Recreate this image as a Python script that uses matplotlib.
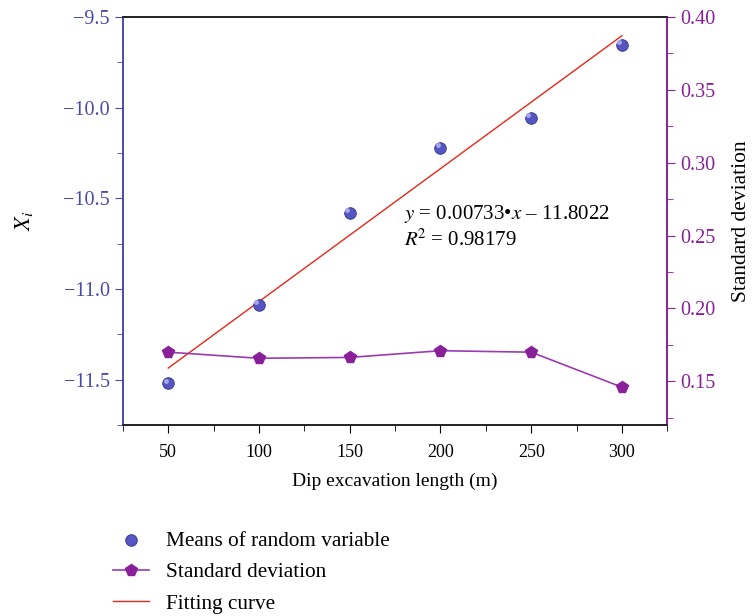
import matplotlib
matplotlib.use("Agg")
import matplotlib.pyplot as plt
import numpy as np
from matplotlib.ticker import MultipleLocator

plt.rcParams['font.family'] = ['Liberation Serif', 'DejaVu Serif']
plt.rcParams['mathtext.fontset'] = 'stix'

# data
lengths = [50, 100, 150, 200, 250, 300]
means = [-11.52, -11.088, -10.58, -10.22, -10.055, -9.654]
std_dev = [0.170, 0.1658, 0.1664, 0.171, 0.170, 0.146]
fit_slope = 0.00733
fit_intercept = -11.8022

blue = '#4a4aa8'
purple = '#8a1f9a'

fig = plt.figure(figsize=(7.54, 6.16), dpi=100)
ax = fig.add_axes([0.163, 0.31, 0.722, 0.6624])
ax2 = ax.twinx()

fit_x = np.array([lengths[0], lengths[-1]])
fit_line, = ax.plot(fit_x, fit_slope * fit_x + fit_intercept, color='#e8261a', lw=1.0,
                    label='Fitting curve', zorder=2)
pts = ax.scatter(lengths, means, s=70, facecolor='#5656c2', edgecolor='#34348a', lw=0.6,
                 label='Means of random variable', zorder=4)
# small highlight to give the spheres a bit of shading
ax.scatter(np.array(lengths) - 1.5, np.array(means) + 0.014, s=12, color='#a8a8ee',
           lw=0, zorder=5)
std_line, = ax2.plot(lengths, std_dev, color='#9b3bb0', lw=1.2, marker='p', ms=8.5,
                     mfc=purple, mec=purple, label='Standard deviation', zorder=3)

ax.set_xlim(25, 325)
ax.set_ylim(-11.75, -9.5)
ax2.set_ylim(0.12, 0.40)

ax.xaxis.set_major_locator(MultipleLocator(50))
ax.xaxis.set_minor_locator(MultipleLocator(25))
ax.yaxis.set_major_locator(MultipleLocator(0.5))
ax.yaxis.set_minor_locator(MultipleLocator(0.25))
ax2.yaxis.set_major_locator(MultipleLocator(0.05))
ax2.yaxis.set_minor_locator(MultipleLocator(0.025))

ax.yaxis.set_major_formatter(matplotlib.ticker.FuncFormatter(
    lambda v, p: ('%.1f' % v).replace('-', '\u2212')))
ax2.yaxis.set_major_formatter(matplotlib.ticker.FormatStrFormatter('%.2f'))

ax.tick_params(axis='x', which='major', length=6, direction='out', labelsize=13, pad=8)
ax.tick_params(axis='x', which='minor', length=4, direction='out')
ax.tick_params(axis='y', which='major', length=6, direction='out', labelsize=14.5,
               colors=blue)
ax.tick_params(axis='y', which='minor', length=4, direction='out', colors=blue)
ax2.tick_params(axis='y', which='major', length=6, direction='out', labelsize=14.5,
                colors=purple)
ax2.tick_params(axis='y', which='minor', length=4, direction='out', colors=purple)

for a in (ax, ax2):
    a.spines['left'].set_color(blue)
    a.spines['right'].set_color(purple)
    a.spines['top'].set_color('#222222')
    a.spines['bottom'].set_color('#222222')
    for s in a.spines.values():
        s.set_linewidth(1.2)

ax.set_xlabel('Dip excavation length (m)', fontsize=14, labelpad=8)
ax.set_ylabel('$X_i$', fontsize=16, labelpad=20)
ax2.set_ylabel('Standard deviation', fontsize=15.5, labelpad=12)

ax.text(180, -10.615, '$y$ = 0.00733\u2022$x$ \u2013 11.8022', fontsize=15)
ax.text(180, -10.76, '$R^{\\!2}$ = 0.98179', fontsize=15)

fig.legend(handles=[pts, std_line, fit_line], loc='upper left',
           bbox_to_anchor=(0.138, 0.152), frameon=False, fontsize=15.3,
           handlelength=1.7, labelspacing=0.55, borderaxespad=0)

fig.savefig('out.png', dpi=100)
